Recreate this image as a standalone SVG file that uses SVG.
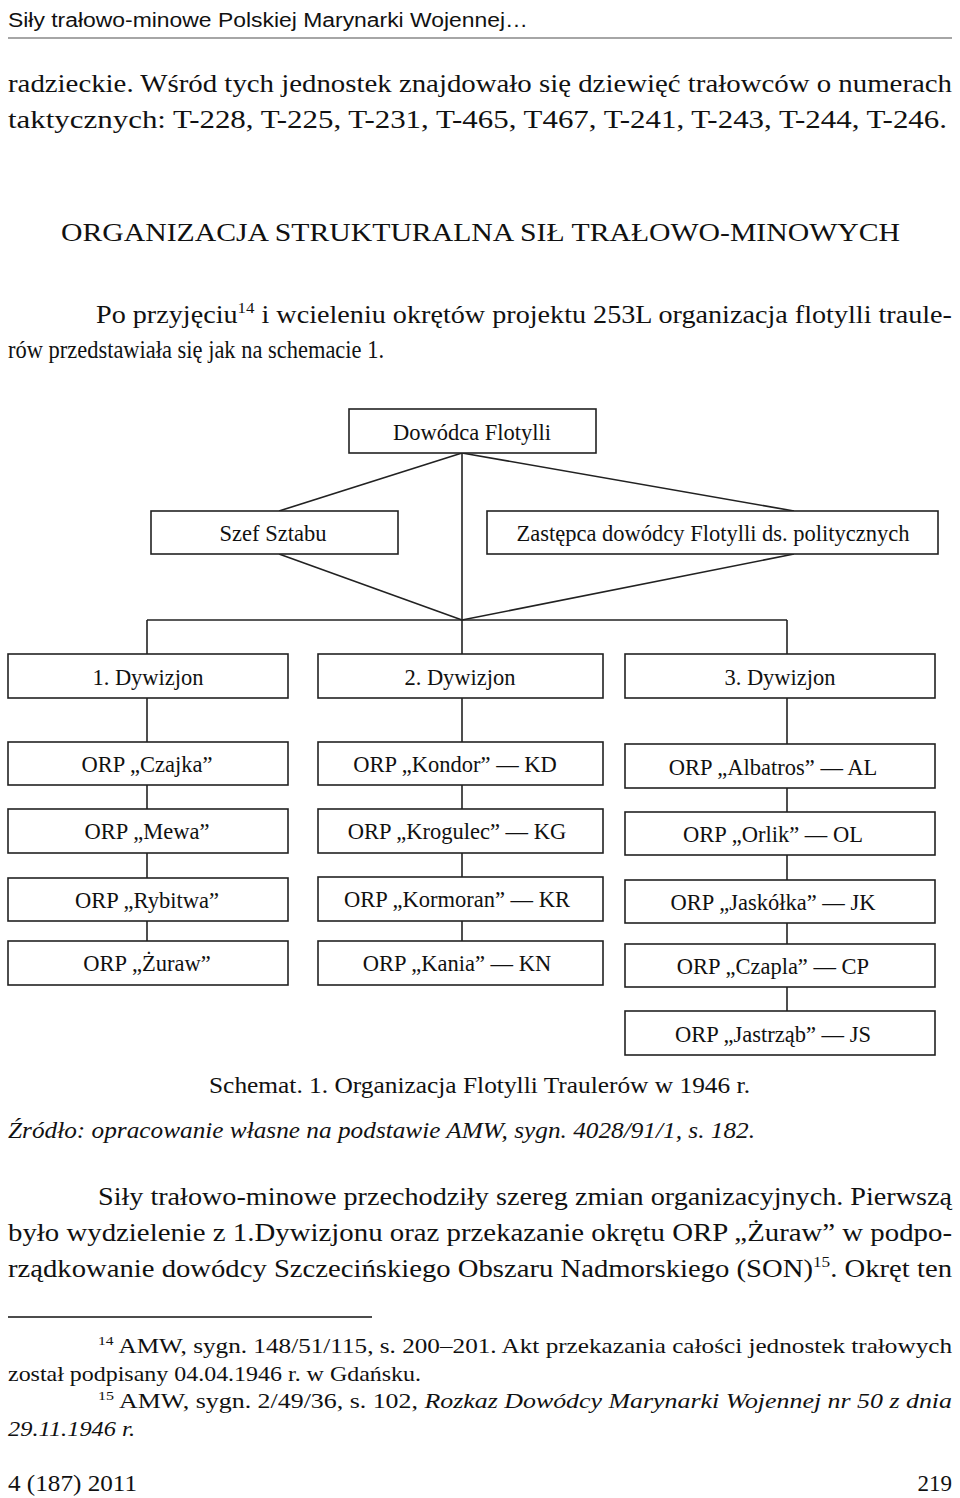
<svg xmlns="http://www.w3.org/2000/svg" width="960" height="1498" viewBox="0 0 960 1498">
<style>
text{font-family:"Liberation Serif","Times New Roman",serif;fill:#111}
.b{font-size:25px}
.d{font-size:22.5px;text-anchor:middle}
.f{font-size:21px}
rect{fill:#fff;stroke:#222;stroke-width:1.6}
.c line{stroke:#222;stroke-width:1.6}
</style>
<rect x="0" y="0" width="960" height="1498" style="stroke:none"/>
<text x="8" y="27" textLength="520" lengthAdjust="spacingAndGlyphs" style="font-family:'Liberation Sans',Arial,sans-serif;font-size:20px">Siły trałowo-minowe Polskiej Marynarki Wojennej…</text>
<line x1="8" y1="38" x2="952" y2="38" stroke="#888" stroke-width="1.5"/>
<text class="b" x="8" y="92" textLength="944" lengthAdjust="spacingAndGlyphs">radzieckie. Wśród tych jednostek znajdowało się dziewięć trałowców o numerach</text>
<text class="b" x="8" y="128" textLength="939" lengthAdjust="spacingAndGlyphs">taktycznych: T-228, T-225, T-231, T-465, T467, T-241, T-243, T-244, T-246.</text>
<text class="b" x="61" y="241" textLength="839" lengthAdjust="spacingAndGlyphs">ORGANIZACJA STRUKTURALNA SIŁ TRAŁOWO-MINOWYCH</text>
<text class="b" x="96" y="323" textLength="856" lengthAdjust="spacingAndGlyphs">Po przyjęciu<tspan font-size="15" dy="-10">14</tspan><tspan dy="10"> i wcieleniu okrętów projektu 253L organizacja flotylli traule-</tspan></text>
<text class="b" x="8" y="358" textLength="376" lengthAdjust="spacingAndGlyphs">rów przedstawiała się jak na schemacie 1.</text>
<g class="c">
<line x1="462" y1="453" x2="279" y2="511"/>
<line x1="462" y1="453" x2="794" y2="511"/>
<line x1="462" y1="453" x2="462" y2="654"/>
<line x1="279" y1="554" x2="462" y2="620"/>
<line x1="794" y1="554" x2="462" y2="620"/>
<line x1="147" y1="620" x2="787" y2="620"/>
<line x1="147" y1="620" x2="147" y2="654"/>
<line x1="787" y1="620" x2="787" y2="654"/>
<line x1="147" y1="698" x2="147" y2="941"/>
<line x1="462" y1="698" x2="462" y2="941"/>
<line x1="787" y1="698" x2="787" y2="1011"/>
</g>
<g id="dowodca"><rect x="349" y="409" width="247" height="44"/><text class="d" x="472" y="440">Dowódca Flotylli</text></g>
<g id="szef"><rect x="151" y="511" width="247" height="43"/><text class="d" x="273" y="541">Szef Sztabu</text></g>
<g id="zastepca"><rect x="487" y="511" width="451" height="43"/><text class="d" x="713" y="541">Zastępca dowódcy Flotylli ds. politycznych</text></g>
<g id="d1"><rect x="8" y="654" width="280" height="44"/><text class="d" x="148" y="685">1. Dywizjon</text></g>
<g id="d2"><rect x="318" y="654" width="285" height="44"/><text class="d" x="460" y="685">2. Dywizjon</text></g>
<g id="d3"><rect x="625" y="654" width="310" height="44"/><text class="d" x="780" y="685">3. Dywizjon</text></g>
<g id="czajka"><rect x="8" y="742" width="280" height="43"/><text class="d" x="147" y="772">ORP „Czajka”</text></g>
<g id="mewa"><rect x="8" y="809" width="280" height="44"/><text class="d" x="147" y="839">ORP „Mewa”</text></g>
<g id="rybitwa"><rect x="8" y="878" width="280" height="43"/><text class="d" x="147" y="908">ORP „Rybitwa”</text></g>
<g id="zuraw"><rect x="8" y="941" width="280" height="44"/><text class="d" x="147" y="971">ORP „Żuraw”</text></g>
<g id="kondor"><rect x="318" y="742" width="285" height="43"/><text class="d" x="455" y="772">ORP „Kondor” — KD</text></g>
<g id="krogulec"><rect x="318" y="809" width="285" height="44"/><text class="d" x="457" y="839">ORP „Krogulec” — KG</text></g>
<g id="kormoran"><rect x="318" y="877" width="285" height="44"/><text class="d" x="457" y="907">ORP „Kormoran” — KR</text></g>
<g id="kania"><rect x="318" y="941" width="285" height="44"/><text class="d" x="457" y="971">ORP „Kania” — KN</text></g>
<g id="albatros"><rect x="625" y="744" width="310" height="44"/><text class="d" x="773" y="775">ORP „Albatros” — AL</text></g>
<g id="orlik"><rect x="625" y="812" width="310" height="43"/><text class="d" x="773" y="842">ORP „Orlik” — OL</text></g>
<g id="jaskolka"><rect x="625" y="880" width="310" height="43"/><text class="d" x="773" y="910">ORP „Jaskółka” — JK</text></g>
<g id="czapla"><rect x="625" y="944" width="310" height="43"/><text class="d" x="773" y="974">ORP „Czapla” — CP</text></g>
<g id="jastrzab"><rect x="625" y="1011" width="310" height="44"/><text class="d" x="773" y="1042">ORP „Jastrząb” — JS</text></g>
<text x="209" y="1093" textLength="541" lengthAdjust="spacingAndGlyphs" style="font-size:23px">Schemat. 1. Organizacja Flotylli Traulerów w 1946 r.</text>
<text x="8" y="1138" textLength="747" lengthAdjust="spacingAndGlyphs" style="font-size:23px;font-style:italic">Źródło: opracowanie własne na podstawie AMW, sygn. 4028/91/1, s. 182.</text>
<text class="b" x="98" y="1205" textLength="854" lengthAdjust="spacingAndGlyphs">Siły trałowo-minowe przechodziły szereg zmian organizacyjnych. Pierwszą</text>
<text class="b" x="8" y="1241" textLength="944" lengthAdjust="spacingAndGlyphs">było wydzielenie z 1.Dywizjonu oraz przekazanie okrętu ORP „Żuraw” w podpo-</text>
<text class="b" x="8" y="1277" textLength="944" lengthAdjust="spacingAndGlyphs">rządkowanie dowódcy Szczecińskiego Obszaru Nadmorskiego (SON)<tspan font-size="15" dy="-10">15</tspan><tspan dy="10">. Okręt ten</tspan></text>
<line x1="8" y1="1317" x2="372" y2="1317" stroke="#111" stroke-width="1.5"/>
<text class="f" x="98" y="1353" textLength="854" lengthAdjust="spacingAndGlyphs"><tspan font-size="13" dy="-8">14</tspan><tspan dy="8"> AMW, sygn. 148/51/115, s. 200–201. Akt przekazania całości jednostek trałowych</tspan></text>
<text class="f" x="8" y="1381" textLength="413" lengthAdjust="spacingAndGlyphs">został podpisany 04.04.1946 r. w Gdańsku.</text>
<text class="f" x="98" y="1408" textLength="854" lengthAdjust="spacingAndGlyphs"><tspan font-size="13" dy="-8">15</tspan><tspan dy="8"> AMW, sygn. 2/49/36, s. 102, </tspan><tspan font-style="italic">Rozkaz Dowódcy Marynarki Wojennej nr 50 z dnia</tspan></text>
<text class="f" x="8" y="1436" font-style="italic" textLength="127" lengthAdjust="spacingAndGlyphs">29.11.1946 r.</text>
<text x="8" y="1491" textLength="129" lengthAdjust="spacingAndGlyphs" style="font-size:23px">4 (187) 2011</text>
<text x="952" y="1491" text-anchor="end" style="font-size:23px">219</text>
</svg>
